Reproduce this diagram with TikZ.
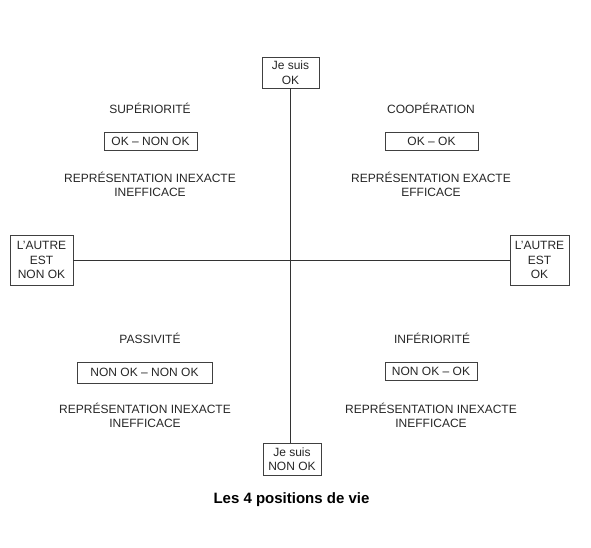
\documentclass[tikz,border=0pt]{standalone}
\usepackage{fontspec}
\setmainfont{Liberation Sans}
\begin{document}
\begin{tikzpicture}[x=1pt,y=-1pt,
  every node/.style={font=\fontsize{12}{14}\selectfont, text=black!85},
  axisbox/.style={draw=black!75, line width=0.6pt, align=center, inner sep=1pt, font=\fontsize{12}{14.5}\selectfont},
  relbox/.style={draw=black!75, line width=0.6pt, inner sep=1.5pt, minimum height=18pt},
  lbl/.style={align=center, font=\fontsize{12}{14}\selectfont},
  axis/.style={draw=black!80, line width=0.6pt}]
\useasboundingbox (0,0) rectangle (591,548);
\node[axisbox, minimum width=57pt, minimum height=31pt] (top) at (290.5,72.5) {Je suis\\OK};
\node[axisbox, minimum width=58pt, minimum height=32pt] (bot) at (292,459) {Je suis\\NON OK};
\node[axisbox, minimum width=63pt, minimum height=50pt] (left) at (41.5,260) {L'AUTRE\\EST\\NON OK};
\node[axisbox, minimum width=59pt, minimum height=50pt] (right) at (539.5,260) {L'AUTRE\\EST\\OK};
\draw[axis] (top.south) -- (top.south |- bot.north);
\draw[axis] (left.east) -- (right.west);
% top-left
\node (supt) at (150,108) {SUPÉRIORITÉ};
\node[relbox, minimum width=93pt] (supb) at (150.5,141) {OK -- NON OK};
\node[lbl] (supr) at (150,184) {REPRÉSENTATION INEXACTE\\INEFFICACE};
% top-right
\node (coot) at (431,108) {COOPÉRATION};
\node[relbox, minimum width=93pt] (coob) at (431.5,141) {OK -- OK};
\node[lbl] (coor) at (431,184) {REPRÉSENTATION EXACTE\\EFFICACE};
% bottom-left
\node (past) at (150,338) {PASSIVITÉ};
\node[relbox, minimum width=135pt, minimum height=21pt] (pasb) at (144.5,372.5) {NON OK -- NON OK};
\node[lbl] (pasr) at (145,415) {REPRÉSENTATION INEXACTE\\INEFFICACE};
% bottom-right
\node (inft) at (432,338) {INFÉRIORITÉ};
\node[relbox, minimum width=92pt] (infb) at (431,371) {NON OK -- OK};
\node[lbl] (infr) at (431,415) {REPRÉSENTATION INEXACTE\\INEFFICACE};
\node[font=\bfseries\fontsize{15}{17}\selectfont, text=black] (cap) at (291.5,500) {Les 4 positions de vie};
\end{tikzpicture}
\end{document}
